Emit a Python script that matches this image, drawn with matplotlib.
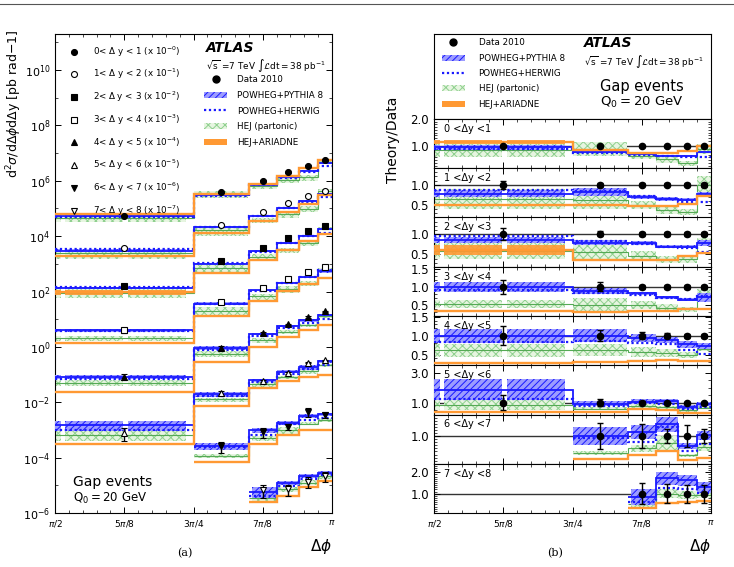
import numpy as np
import matplotlib.pyplot as plt
from matplotlib.patches import Patch
from matplotlib.lines import Line2D
from matplotlib.ticker import FixedLocator, MultipleLocator, NullFormatter

nan = np.nan

# delta phi bin edges, in units of pi
edges_pi = np.array([0.5, 0.75, 0.85, 0.9, 0.94, 0.975, 1.0])
xtick_pi = [0.5, 0.625, 0.75, 0.875, 1.0]
xtick_labels = [r'$\pi/2$', r'$5\pi/8$', r'$3\pi/4$', r'$7\pi/8$', r'$\pi$']

dy_labels = ['0< \u0394 y < 1', '1< \u0394 y < 2', '2< \u0394 y < 3', '3< \u0394 y < 4',
             '4< \u0394 y < 5', '5< \u0394 y < 6', '6< \u0394 y < 7', '7< \u0394 y < 8']
dy_panel = ['0 <\u0394y <1', '1 <\u0394y <2', '2 <\u0394y <3', '3 <\u0394y <4',
            '4 <\u0394y <5', '5 <\u0394y <6', '6 <\u0394y <7', '7 <\u0394y <8']
scale_exp = [0, 1, 2, 3, 4, 5, 6, 7]

# measured d2sigma/ddphi ddy [pb/rad], before the 10^-n offsets
data_xsec = [
    [5.4e4, 3.8e5, 1.0e6, 2.0e6, 3.5e6, 5.4e6],
    [3.8e4, 2.6e5, 7.6e5, 1.6e6, 2.9e6, 4.3e6],
    [1.55e4, 1.3e5, 3.7e5, 8.3e5, 1.5e6, 2.3e6],
    [4.0e3, 4.1e4, 1.35e5, 2.95e5, 5.1e5, 7.8e5],
    [830, 9.3e3, 3.1e4, 6.5e4, 1.2e5, 1.9e5],
    [80, 2.1e3, 5.9e3, 1.15e4, 2.7e4, 3.3e4],
    [nan, 260, 850, 1300, 4600, 3600],
    [nan, nan, 70, 72, 135, 220],
]
data_relerr = [
    [0.03, 0.03, 0.03, 0.03, 0.03, 0.03],
    [0.10, 0.05, 0.04, 0.04, 0.04, 0.05],
    [0.15, 0.06, 0.05, 0.05, 0.05, 0.05],
    [0.20, 0.12, 0.06, 0.05, 0.05, 0.05],
    [0.25, 0.15, 0.10, 0.07, 0.05, 0.05],
    [0.50, 0.22, 0.08, 0.06, 0.06, 0.06],
    [nan, 0.42, 0.38, 0.22, 0.35, 0.24],
    [nan, nan, 0.50, 0.45, 0.42, 0.42],
]

# theory / data
r_pythia = [
    [0.96, 0.80, 0.72, 0.66, 0.66, 0.78],
    [0.78, 0.82, 0.71, 0.65, 0.63, 0.77],
    [0.85, 0.79, 0.77, 0.69, 0.69, 0.77],
    [1.00, 0.89, 0.82, 0.71, 0.64, 0.71],
    [1.00, 1.00, 0.94, 0.88, 0.77, 0.74],
    [1.85, 0.91, 1.06, 1.10, 0.70, 0.90],
    [nan, 1.00, 1.13, 1.38, 0.69, 1.02],
    [nan, nan, 0.84, 1.72, 1.62, 1.30],
]
e_pythia = [
    [0.08, 0.05, 0.04, 0.03, 0.03, 0.04],
    [0.09, 0.09, 0.05, 0.04, 0.04, 0.05],
    [0.08, 0.06, 0.05, 0.04, 0.04, 0.07],
    [0.14, 0.09, 0.05, 0.04, 0.04, 0.12],
    [0.19, 0.17, 0.10, 0.08, 0.10, 0.08],
    [0.70, 0.17, 0.15, 0.12, 0.15, 0.12],
    [nan, 0.28, 0.24, 0.25, 0.10, 0.16],
    [nan, nan, 0.36, 0.30, 0.25, 0.25],
]
r_herwig = [
    [0.92, 0.76, 0.68, 0.63, 0.61, 0.62],
    [0.87, 0.85, 0.73, 0.64, 0.58, 0.58],
    [0.96, 0.82, 0.75, 0.67, 0.66, 0.57],
    [0.92, 0.83, 0.78, 0.68, 0.66, 0.76],
    [0.83, 0.85, 0.82, 0.77, 0.62, 0.53],
    [1.25, 0.80, 0.95, 0.90, 0.60, 0.70],
    [nan, 0.95, 0.80, 1.30, 0.50, 0.75],
    [nan, nan, 0.60, 1.28, 1.23, 1.05],
]
r_hej = [
    [0.85, 0.90, 0.65, 0.53, 0.38, 0.90],
    [0.65, 0.62, 0.50, 0.38, 0.33, 1.00],
    [0.58, 0.55, 0.47, 0.38, 0.38, 0.80],
    [0.52, 0.50, 0.50, 0.42, 0.38, 0.78],
    [0.62, 0.62, 0.57, 0.55, 0.50, 0.66],
    [0.85, 0.60, 0.75, 0.70, 0.50, 0.65],
    [nan, 0.45, 0.60, 0.76, 0.37, 0.64],
    [nan, nan, 0.50, 1.00, 0.93, 0.95],
]
e_hej = [
    [0.25, 0.27, 0.13, 0.13, 0.10, 0.17],
    [0.25, 0.22, 0.10, 0.09, 0.08, 0.21],
    [0.20, 0.22, 0.12, 0.08, 0.08, 0.10],
    [0.11, 0.20, 0.12, 0.11, 0.08, 0.15],
    [0.17, 0.15, 0.12, 0.10, 0.08, 0.07],
    [0.35, 0.10, 0.15, 0.10, 0.10, 0.10],
    [nan, 0.08, 0.12, 0.23, 0.05, 0.11],
    [nan, nan, 0.15, 0.20, 0.18, 0.15],
]
r_ariadne = [
    [1.15, 0.88, 0.75, 0.75, 0.83, 1.02],
    [0.50, 0.50, 0.47, 0.47, 0.52, 0.73],
    [0.61, 0.36, 0.37, 0.37, 0.45, 0.54],
    [0.34, 0.32, 0.34, 0.35, 0.38, 0.40],
    [0.28, 0.30, 0.33, 0.36, 0.33, 0.33],
    [0.40, 0.35, 0.55, 0.50, 0.30, 0.30],
    [nan, 0.26, 0.37, 0.50, 0.21, 0.28],
    [nan, nan, 0.35, 0.58, 0.63, 0.66],
]
e_ariadne = [
    [0.07, 0.01, 0.01, 0.01, 0.01, 0.01],
    [0.01, 0.01, 0.01, 0.01, 0.01, 0.01],
    [0.12, 0.01, 0.01, 0.01, 0.01, 0.01],
    [0.01, 0.01, 0.01, 0.01, 0.01, 0.01],
    [0.01, 0.01, 0.01, 0.01, 0.01, 0.01],
    [0.01, 0.01, 0.01, 0.01, 0.01, 0.01],
    [nan, 0.01, 0.01, 0.01, 0.01, 0.01],
    [nan, nan, 0.02, 0.02, 0.02, 0.02],
]

markers = ['o', 'o', 's', 's', '^', '^', 'v', 'v']
filled = [True, False, True, False, True, False, True, False]

BLUE = '#1a1aff'
BLUE_FILL = '#9c9cff'
GREEN_HATCH = '#8fd08f'
GREEN_FILL = '#e6f5e0'
GREEN_LINE = '#55aa55'
ORANGE = '#ff9933'

plt.rcParams['font.family'] = 'DejaVu Sans'
plt.rcParams['hatch.linewidth'] = 0.7
plt.rcParams['xtick.direction'] = 'in'
plt.rcParams['ytick.direction'] = 'in'
plt.rcParams['xtick.top'] = True
plt.rcParams['ytick.right'] = True

edges = edges_pi * np.pi
centers = 0.5 * (edges[:-1] + edges[1:])

# pieces of each bin that get a band (the original bands have small white gaps)
SEGMENTS = [(0.5, 0.510, 0), (0.518, 0.623, 0), (0.631, 0.737, 0),
            (0.75, 0.849, 1), (0.856, 0.9, 2), (0.9, 0.94, 3),
            (0.94, 0.975, 4), (0.975, 1.0, 5)]


def band(ax, lo, hi, **kw):
    for x0, x1, b in SEGMENTS:
        if np.isfinite(lo[b]):
            ax.fill_between([x0 * np.pi, x1 * np.pi], lo[b], hi[b], **kw)


def steps(ax, vals, **kw):
    vals = np.asarray(vals, dtype=float)
    i0 = int(np.argmax(np.isfinite(vals)))
    ax.stairs(vals[i0:], edges[i0:], baseline=None, **kw)


def draw_theory(ax, i, ref, scale):
    ref = np.asarray(ref, dtype=float) * scale
    rp, ep = np.array(r_pythia[i]), np.array(e_pythia[i])
    rh, eh = np.array(r_hej[i]), np.array(e_hej[i])
    ra, ea = np.array(r_ariadne[i]), np.array(e_ariadne[i])
    band(ax, ref * (rh - eh), ref * (rh + eh), facecolor=GREEN_FILL,
         edgecolor=GREEN_HATCH, hatch='xxxx', linewidth=0, zorder=2)
    steps(ax, ref * rh, color=GREEN_LINE, lw=0.8, zorder=2.1)
    band(ax, ref * (rp - ep), ref * (rp + ep), facecolor=BLUE_FILL,
         edgecolor=BLUE, hatch='/////', linewidth=0, zorder=3)
    steps(ax, ref * rp, color=BLUE, lw=1.3, zorder=3.1)
    steps(ax, ref * np.array(r_herwig[i]), color=BLUE, lw=1.6,
          ls=(0, (1, 1.2)), zorder=3.2)
    band(ax, ref * (ra - ea), ref * (ra + ea), facecolor=ORANGE,
         linewidth=0, alpha=0.9, zorder=4)
    steps(ax, ref * ra, color=ORANGE, lw=1.7, zorder=4.1)


def set_xaxis(ax, labels):
    ax.set_xlim(np.pi / 2, np.pi)
    ax.xaxis.set_major_locator(FixedLocator(np.array(xtick_pi) * np.pi))
    ax.xaxis.set_minor_locator(MultipleLocator(np.pi / 40))
    if labels:
        ax.set_xticklabels(xtick_labels, fontsize=6.5)
        ax.set_xlabel(r'$\Delta\phi$', loc='right', fontsize=11, labelpad=6)
    else:
        ax.xaxis.set_major_formatter(NullFormatter())
    ax.tick_params(which='major', length=4, width=0.7)
    ax.tick_params(which='minor', length=2, width=0.5)


W, H = 734, 567
fig = plt.figure(figsize=(W / 100, H / 100), dpi=100)


def px_axes(x0, y0, x1, y1):
    return fig.add_axes([x0 / W, 1 - y1 / H, (x1 - x0) / W, (y1 - y0) / H])


# ---------------- (a) cross sections ----------------
ax = px_axes(55, 34, 332, 513)
ax.set_yscale('log')
ax.set_ylim(1e-6, 2e11)
dy_handles = []
for i in range(8):
    scale = 10.0 ** (-scale_exp[i])
    xs = np.array(data_xsec[i]) * scale
    draw_theory(ax, i, data_xsec[i], scale)
    ok = np.isfinite(xs)
    err = xs * np.array(data_relerr[i])
    ax.errorbar(centers[ok], xs[ok], yerr=err[ok], fmt=markers[i], color='k',
                mfc='k' if filled[i] else 'white', mec='k', ms=4.3, mew=0.8,
                elinewidth=1.0, capsize=2.2, capthick=1.0, zorder=6)
    dy_handles.append(Line2D([], [], marker=markers[i], color='k', ls='none', ms=4.3,
                             mfc='k' if filled[i] else 'white', mew=0.8))

ax.yaxis.set_major_locator(FixedLocator([10.0 ** k for k in range(-6, 12, 2)]))
ax.yaxis.set_minor_locator(FixedLocator([10.0 ** k for k in range(-5, 12, 2)]))
ax.yaxis.set_minor_formatter(NullFormatter())
ax.tick_params(axis='y', labelsize=8)
set_xaxis(ax, True)
ax.tick_params(axis='y', which='minor', length=2)

dy_leg = ax.legend(dy_handles,
                   ['%s (x 10$^{-%d}$)' % (lab, e) for lab, e in zip(dy_labels, scale_exp)],
                   loc='upper left', bbox_to_anchor=(0.02, 0.995), frameon=False,
                   fontsize=6.3, handlelength=1.2, handletextpad=1.6, labelspacing=0.95)
ax.add_artist(dy_leg)

theory_handles = [
    Line2D([], [], marker='o', color='k', ls='none', ms=5),
    Patch(facecolor=BLUE_FILL, edgecolor=BLUE, hatch='/////', lw=0),
    Line2D([], [], color=BLUE, lw=1.6, ls=(0, (1, 1.2))),
    Patch(facecolor=GREEN_FILL, edgecolor=GREEN_HATCH, hatch='xxxx', lw=0),
    Patch(facecolor=ORANGE, lw=0),
]
theory_labels = ['Data 2010', 'POWHEG+PYTHIA 8', 'POWHEG+HERWIG', 'HEJ (partonic)', 'HEJ+ARIADNE']
ax.legend(theory_handles, theory_labels, loc='upper left', bbox_to_anchor=(0.51, 0.93),
          frameon=False, fontsize=6.3, handlelength=2.6, handletextpad=1.2, labelspacing=0.75)

ax.text(0.545, 0.985, 'ATLAS', transform=ax.transAxes, fontsize=10, fontweight='bold',
        fontstyle='italic', va='top')
ax.text(0.545, 0.935, r'$\sqrt{\rm s}$ =7 TeV $\int\mathcal{L}$dt$=$38 pb$^{-1}$',
        transform=ax.transAxes, fontsize=6.4, va='center')
ax.text(0.065, 0.065, 'Gap events', transform=ax.transAxes, fontsize=10, va='center')
ax.text(0.065, 0.03, r'Q$_0$$=$20 GeV', transform=ax.transAxes, fontsize=8.5, va='center')
fig.text(14 / W, 1 - 30 / H, r'd$^2\sigma$/d$\Delta\phi$d$\Delta$y [pb rad$-$1]',
         rotation=90, ha='center', va='top', fontsize=9)

# ---------------- (b) theory / data ----------------
axl = px_axes(434, 34, 711, 119)
axl.set_xticks([])
axl.set_yticks([])
axl.legend(theory_handles, theory_labels, loc='upper left', bbox_to_anchor=(0.0, 1.04),
           frameon=False, fontsize=6.3, handlelength=2.6, handletextpad=1.6, labelspacing=0.72)
axl.text(0.54, 0.89, 'ATLAS', transform=axl.transAxes, fontsize=10, fontweight='bold',
         fontstyle='italic', va='center')
axl.text(0.54, 0.68, r'$\sqrt{\rm s}$ =7 TeV $\int\mathcal{L}$dt$=$38 pb$^{-1}$',
         transform=axl.transAxes, fontsize=6.4, va='center')
axl.text(0.6, 0.38, 'Gap events', transform=axl.transAxes, fontsize=10.5, va='center')
axl.text(0.6, 0.2, r'Q$_0$$=$20 GeV', transform=axl.transAxes, fontsize=9.5, va='center')
fig.text(393 / W, 1 - 140 / H, 'Theory/Data', rotation=90, ha='center', va='center',
         fontsize=10)

ratio_ylim = [(0.2, 2.0), (0.2, 1.4), (0.2, 1.4), (0.2, 1.55), (0.22, 1.52),
              (0.2, 3.5), (0.1, 1.7), (0.1, 2.4)]
ratio_ticks = [[1.0, 2.0], [0.5, 1.0], [0.5, 1.0], [0.5, 1.0, 1.5], [0.5, 1.0, 1.5],
               [1.0, 3.0], [1.0], [1.0, 2.0]]
ph = (513 - 119) / 8
for i in range(8):
    axr = px_axes(434, 119 + i * ph, 711, 119 + (i + 1) * ph)
    ones = np.where(np.isfinite(np.array(data_xsec[i])), 1.0, nan)
    axr.axhline(1.0, color='#333333', lw=1.0, zorder=1)
    draw_theory(axr, i, ones, 1.0)
    ok = np.isfinite(ones)
    axr.errorbar(centers[ok], ones[ok], yerr=np.array(data_relerr[i])[ok], fmt='o',
                 color='k', ms=4.5, elinewidth=1.0, capsize=2.2, capthick=1.0, zorder=6)
    axr.set_ylim(*ratio_ylim[i])
    axr.yaxis.set_major_locator(FixedLocator(ratio_ticks[i]))
    axr.yaxis.set_major_formatter(plt.FormatStrFormatter('%.1f'))
    axr.yaxis.set_minor_locator(MultipleLocator(0.5 if i == 5 else 0.1))
    axr.tick_params(axis='y', labelsize=8.5)
    set_xaxis(axr, i == 7)
    axr.text(0.035, 0.9, dy_panel[i], transform=axr.transAxes, fontsize=7, va='top')

fig.text(185 / W, 1 - 553 / H, '(a)', ha='center', va='center', fontsize=8, family='serif')
fig.text(555 / W, 1 - 553 / H, '(b)', ha='center', va='center', fontsize=8, family='serif')
fig.add_artist(Line2D([0, 1], [1 - 4 / H, 1 - 4 / H], transform=fig.transFigure,
                      color='#555555', lw=0.8))

fig.savefig('out.png', dpi=100)
